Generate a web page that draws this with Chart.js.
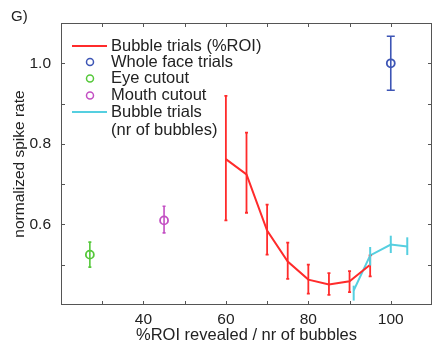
<!DOCTYPE html>
<html>
<head>
<meta charset="utf-8">
<script src="https://cdn.jsdelivr.net/npm/chart.js@4"></script>
<style>
html,body{margin:0;padding:0;background:#fff;}
#wrap{width:438px;height:360px;}
</style>
</head>
<body>
<div id="wrap"><canvas id="c" width="438" height="360"></canvas></div>
<script>
// ---- data ----
const roiX = [60, 65, 70, 75, 80, 85, 90, 95];
const roiY = [0.762, 0.724, 0.585, 0.508, 0.463, 0.451, 0.459, 0.500];
const roiHi = [0.919, 0.828, 0.649, 0.555, 0.500, 0.479, 0.484, 0.523];
const roiLo = [0.610, 0.629, 0.525, 0.465, 0.428, 0.425, 0.432, 0.471];

const bubX = [91, 95, 100, 104];
const bubY = [0.436, 0.523, 0.550, 0.545];
const bubHi = [0.448, 0.544, 0.572, 0.568];
const bubLo = [0.411, 0.498, 0.529, 0.524];

const wholeX = [100]; const wholeY = [1.0]; const wholeHi = [1.067]; const wholeLo = [0.933];
const eyeX = [27]; const eyeY = [0.525]; const eyeHi = [0.556]; const eyeLo = [0.494];
const mouthX = [45]; const mouthY = [0.610]; const mouthHi = [0.645]; const mouthLo = [0.579];

const xTickLabels = [40, 60, 80, 100];
const yTickLabels = [0.6, 0.8, 1.0];

const seriesNames = ['Bubble trials (%ROI)', 'Whole face trials', 'Eye cutout', 'Mouth cutout', 'Bubble trials', '(nr of bubbles)'];

const RED = '#ff2b2b', BLUE = '#3d55b5', GREEN = '#55c83a', MAG = '#c34fc3', CYAN = '#55cfe0';
const FONT = 'Liberation Sans, Arial, Helvetica, sans-serif';

function pts(xs, ys) { return xs.map((x, i) => ({x: x, y: ys[i]})); }

const errorBars = {
  id: 'errorBars',
  afterDatasetsDraw(chart) {
    const ctx = chart.ctx, xs = chart.scales.x, ys = chart.scales.y;
    chart.data.datasets.forEach(ds => {
      if (!ds.errHi) return;
      ctx.save();
      ctx.strokeStyle = ds.borderColor;
      ctx.lineWidth = ds.errWidth || 1.6;
      ds.data.forEach((p, i) => {
        const px = xs.getPixelForValue(p.x);
        const yh = ys.getPixelForValue(ds.errHi[i]);
        const yl = ys.getPixelForValue(ds.errLo[i]);
        const c = ds.capHalf;
        ctx.beginPath();
        ctx.moveTo(px, yh); ctx.lineTo(px, yl);
        if (c > 0) {
          ctx.moveTo(px - c, yh); ctx.lineTo(px + c, yh);
          ctx.moveTo(px - c, yl); ctx.lineTo(px + c, yl);
        }
        ctx.stroke();
      });
      ctx.restore();
    });
  }
};

const frame = {
  id: 'frame',
  afterDraw(chart) {
    const ctx = chart.ctx, a = chart.chartArea, xs = chart.scales.x, ys = chart.scales.y;
    ctx.save();
    ctx.strokeStyle = '#555';
    ctx.lineWidth = 1;
    ctx.strokeRect(a.left + 0.5, a.top + 0.5, a.right - a.left - 1, a.bottom - a.top - 1);
    ctx.beginPath();
    const L = 4;
    for (let v = 30; v <= 100; v += 10) {
      const px = Math.round(xs.getPixelForValue(v)) + 0.5;
      ctx.moveTo(px, a.bottom); ctx.lineTo(px, a.bottom - L);
      ctx.moveTo(px, a.top); ctx.lineTo(px, a.top + L);
    }
    for (let k = 5; k <= 10; k++) {
      const py = Math.round(ys.getPixelForValue(k / 10)) + 0.5;
      ctx.moveTo(a.left, py); ctx.lineTo(a.left + L, py);
      ctx.moveTo(a.right, py); ctx.lineTo(a.right - L, py);
    }
    ctx.stroke();
    // panel label
    ctx.fillStyle = '#222';
    ctx.font = '15px ' + FONT;
    ctx.textBaseline = 'middle';
    ctx.textAlign = 'left';
    ctx.fillText('G)', 11, 17);
    // legend
    ctx.font = '16.5px ' + FONT;
    const tx = 111;
    const rows = [46, 62, 78.5, 95.5, 112, 130];
    ctx.lineWidth = 2;
    ctx.strokeStyle = RED;
    ctx.beginPath(); ctx.moveTo(72, rows[0]); ctx.lineTo(107, rows[0]); ctx.stroke();
    ctx.strokeStyle = CYAN;
    ctx.beginPath(); ctx.moveTo(72, rows[4]); ctx.lineTo(107, rows[4]); ctx.stroke();
    ctx.lineWidth = 1.5;
    [[BLUE, rows[1]], [GREEN, rows[2]], [MAG, rows[3]]].forEach(([c, y]) => {
      ctx.strokeStyle = c;
      ctx.beginPath(); ctx.arc(90, y, 3.5, 0, Math.PI * 2); ctx.stroke();
    });
    seriesNames.forEach((t, i) => ctx.fillText(t, tx, rows[i]));
    ctx.restore();
  }
};

new Chart(document.getElementById('c'), {
  type: 'line',
  data: {
    datasets: [
      {label: seriesNames[0], data: pts(roiX, roiY), borderColor: RED, borderWidth: 2, pointRadius: 0, tension: 0,
       errHi: roiHi, errLo: roiLo, capHalf: 1.5, errWidth: 1.8},
      {label: seriesNames[4], data: pts(bubX, bubY), borderColor: CYAN, borderWidth: 2, pointRadius: 0, tension: 0,
       errHi: bubHi, errLo: bubLo, capHalf: 0, errWidth: 2},
      {label: seriesNames[1], data: pts(wholeX, wholeY), borderColor: BLUE, showLine: false, pointRadius: 4, pointBorderWidth: 1.8,
       pointBackgroundColor: 'rgba(0,0,0,0)', errHi: wholeHi, errLo: wholeLo, capHalf: 4, errWidth: 1.6},
      {label: seriesNames[2], data: pts(eyeX, eyeY), borderColor: GREEN, showLine: false, pointRadius: 4, pointBorderWidth: 1.8,
       pointBackgroundColor: 'rgba(0,0,0,0)', errHi: eyeHi, errLo: eyeLo, capHalf: 1.5, errWidth: 1.6},
      {label: seriesNames[3], data: pts(mouthX, mouthY), borderColor: MAG, showLine: false, pointRadius: 4, pointBorderWidth: 1.8,
       pointBackgroundColor: 'rgba(0,0,0,0)', errHi: mouthHi, errLo: mouthLo, capHalf: 1.5, errWidth: 1.6}
    ]
  },
  options: {
    responsive: false,
    animation: false,
    events: [],
    layout: {padding: {top: 23, right: 6, left: 0, bottom: 0}},
    plugins: {legend: {display: false}, tooltip: {enabled: false}},
    scales: {
      x: {
        type: 'linear', min: 20, max: 110,
        afterFit(s) { s.height = 55; },
        grid: {display: false, drawTicks: false},
        border: {display: false},
        ticks: {stepSize: 10, padding: 5, color: '#222', font: {family: FONT, size: 15.5},
          callback: v => xTickLabels.includes(v) ? String(v) : ''},
        title: {display: true, text: '%ROI revealed / nr of bubbles', color: '#222', font: {family: FONT, size: 16.5}, padding: {top: 15, bottom: 15}}
      },
      y: {
        type: 'linear', min: 0.4, max: 1.1,
        afterFit(s) { s.width = 61; },
        grid: {display: false, drawTicks: false},
        border: {display: false},
        ticks: {stepSize: 0.1, padding: 10, color: '#222', font: {family: FONT, size: 15.5},
          callback: v => yTickLabels.some(t => Math.abs(t - v) < 1e-6) ? v.toFixed(1) : ''},
        title: {display: true, text: 'normalized spike rate', color: '#222', font: {family: FONT, size: 15.5}, padding: {top: 10, bottom: 10}}
      }
    }
  },
  plugins: [errorBars, frame]
});
</script>
</body>
</html>
